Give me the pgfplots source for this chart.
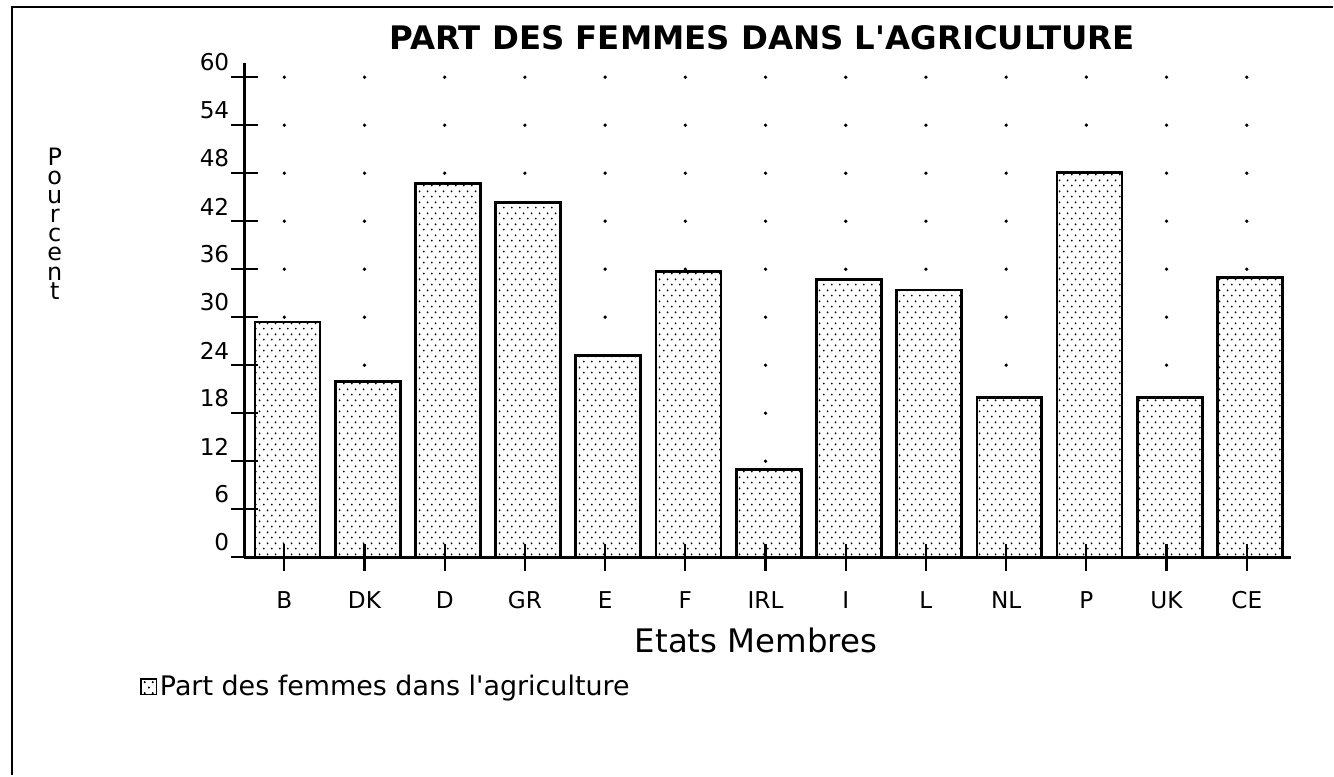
\documentclass[border=0pt]{standalone}
\usepackage{pgfplots}
\pgfplotsset{compat=1.18}
\usepackage{pgfplotstable}
\usepackage{fontspec}
\setmainfont{DejaVu Sans}[Ligatures=TeXOff]
\usetikzlibrary{patterns}

% trame de points en quinconce, comme l'original
\pgfdeclarepatternformonly{macdots}{\pgfpointorigin}{\pgfpoint{3.3pt}{4.3pt}}{\pgfpoint{3.3pt}{4.3pt}}{
  \pgfpathcircle{\pgfpoint{0.8pt}{1pt}}{0.42pt}
  \pgfpathcircle{\pgfpoint{2.45pt}{3.15pt}}{0.42pt}
  \pgfusepath{fill}
}

% part des femmes (%), par Etat membre
\pgfplotstableread{
x val
0  29.4
1  22.0
2  46.7
3  44.3
4  25.2
5  35.7
6  11.0
7  34.7
8  33.4
9  20.0
10 48.1
11 20.0
12 35.0
}\parts

\begin{document}
\begin{tikzpicture}
\begin{axis}[
    set layers,
    scale only axis,
    width=420pt, height=198.4pt,
    xmin=-0.5, xmax=12.55,
    ymin=0, ymax=61.8,
    axis x line=bottom, axis y line=left,
    axis line style={line width=1.1pt, -},
    axis on top,
    clip=false,
    xtick={0,...,12},
    xticklabels={B,DK,D,GR,E,F,IRL,I,L,NL,P,UK,CE},
    ytick={0,6,...,60},
    tick align=center,
    major tick length=10.8pt,
    tick style={line width=0.9pt, black},
    /pgf/number format/assume math mode=true,
    ticklabel style={font=\fontsize{9.3}{10}\selectfont},
    yticklabel style={anchor=south east, inner sep=0pt, xshift=-0.4pt, yshift=2.2pt},
    xticklabel style={anchor=north, inner sep=0pt, yshift=-8pt, text height=7pt, text depth=0pt},
    title={\bfseries PART DES FEMMES DANS L'AGRICULTURE},
    title style={font=\fontsize{13}{14}\selectfont, at={(axis description cs:0.495,1.02)}, anchor=center, yshift=0pt},
    xlabel={Etats Membres},
    xlabel style={font=\fontsize{13}{14}\selectfont, at={(axis description cs:0.489,-0.169)}, anchor=center},
    ylabel={P\\o\\u\\r\\c\\e\\n\\t},
    ylabel style={font=\fontsize{9.6}{7.7}\selectfont, align=center, rotate=-90, at={(axis description cs:-0.181,0.675)}, anchor=center},
    legend style={draw=none, fill=none, at={(axis description cs:-0.1,-0.262)}, anchor=west,
        font=\fontsize{10.8}{11}\selectfont, inner sep=0pt, nodes={inner sep=1pt}},
    legend image code/.code={
        \draw[fill=white, postaction={pattern=macdots}, draw=black, line width=0.6pt] (0pt,-3.2pt) rectangle (6.4pt,3.2pt);
    },
]
% grille de points aux intersections (sous les barres)
\addplot[only marks, mark=*, mark size=0.45pt, black, forget plot,
    on layer=axis background, mark layer=axis background] coordinates {
 (0,6)(1,6)(2,6)(3,6)(4,6)(5,6)(6,6)(7,6)(8,6)(9,6)(10,6)(11,6)(12,6)
 (0,12)(1,12)(2,12)(3,12)(4,12)(5,12)(6,12)(7,12)(8,12)(9,12)(10,12)(11,12)(12,12)
 (0,18)(1,18)(2,18)(3,18)(4,18)(5,18)(6,18)(7,18)(8,18)(9,18)(10,18)(11,18)(12,18)
 (0,24)(1,24)(2,24)(3,24)(4,24)(5,24)(6,24)(7,24)(8,24)(9,24)(10,24)(11,24)(12,24)
 (0,30)(1,30)(2,30)(3,30)(4,30)(5,30)(6,30)(7,30)(8,30)(9,30)(10,30)(11,30)(12,30)
 (0,36)(1,36)(2,36)(3,36)(4,36)(5,36)(6,36)(7,36)(8,36)(9,36)(10,36)(11,36)(12,36)
 (0,42)(1,42)(2,42)(3,42)(4,42)(5,42)(6,42)(7,42)(8,42)(9,42)(10,42)(11,42)(12,42)
 (0,48)(1,48)(2,48)(3,48)(4,48)(5,48)(6,48)(7,48)(8,48)(9,48)(10,48)(11,48)(12,48)
 (0,54)(1,54)(2,54)(3,54)(4,54)(5,54)(6,54)(7,54)(8,54)(9,54)(10,54)(11,54)(12,54)
 (0,60)(1,60)(2,60)(3,60)(4,60)(5,60)(6,60)(7,60)(8,60)(9,60)(10,60)(11,60)(12,60)
};
\addplot[ybar, bar width=0.81, bar shift=0.04, draw=black, line width=1.1pt,
    fill=white, postaction={pattern=macdots}] table[x=x, y=val] {\parts};
\legend{Part des femmes dans l'agriculture}
% cadre (gauche et haut) et taille de la page
\draw[line width=1pt] (rel axis cs:-0.222,-0.44) -- (rel axis cs:-0.222,1.113) -- (rel axis cs:1.04,1.113);
\path (rel axis cs:-0.2333,-0.4395) rectangle (rel axis cs:1.0371,1.127);
\end{axis}
\end{tikzpicture}
\end{document}
